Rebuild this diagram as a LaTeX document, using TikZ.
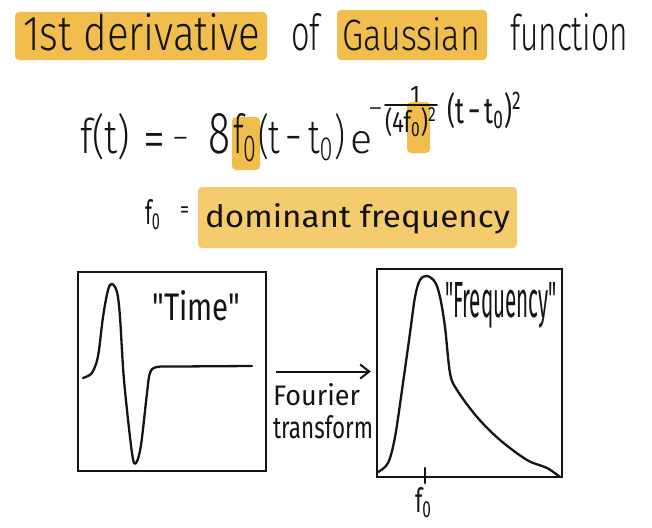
\documentclass[tikz,border=0pt]{standalone}
\usepackage{fontspec}
\usepackage{graphicx}
\setmainfont{Fira Sans Light}
\newfontfamily\reg{Fira Sans}
\newfontfamily\nomap{Fira Sans}[Ligatures=TeXOff]
\usetikzlibrary{arrows.meta}
\definecolor{hlA}{RGB}{241,190,78}
\definecolor{hlB}{RGB}{244,204,110}
\definecolor{ink}{RGB}{20,20,20}
\newcommand\hw[3]{\resizebox{#1pt}{#2pt}{#3}}
\begin{document}
\begin{tikzpicture}[x=1pt,y=1pt,
  txt/.style={anchor=base west,inner sep=0pt,outer sep=0pt,text=ink},
  rtxt/.style={txt,font=\reg},
  hl/.style={fill=hlA,rounded corners=4pt,draw=none},
  hlsoft/.style={fill=hlB,rounded corners=4pt,draw=none},
  boxframe/.style={draw=ink,line width=2.3pt,inner sep=0pt},
  curve/.style={draw=ink,line width=2.3pt,line cap=round,line join=round},
  >={Straight Barb[length=9pt,width=14pt]}]
\useasboundingbox (0,0) rectangle (652,-527);
\fill[white] (0,0) rectangle (652,-527);
% highlights
\path[hl] (15,-12) rectangle (267,-60);
\path[hl] (337,-10) rectangle (487,-60);
\path[hl] (232,-117) rectangle (260,-170);
\path[hl] (407,-102) rectangle (430,-153);
\path[hlsoft] (198,-187) rectangle (517,-248);
% title
\node[txt] (t1) at (23,-50) {\hw{237}{37}{1st derivative}};
\node[txt] (t2) at (291,-50) {\hw{29}{37}{of}};
\node[txt] (t3) at (342,-50) {\hw{138}{33}{Gaussian}};
\node[txt] (t4) at (510,-50) {\hw{118}{37}{function}};
% formula
\node[txt] (f1) at (80,-153) {\hw{50}{40}{f(t)}};
\node[txt] (f2) at (143,-158) {\hw{22}{25}{=}};
\node[txt,font=\fontsize{34}{34}\selectfont] (f3) at (172,-149) {−};
\node[txt] (f4) at (208,-153) {\hw{22}{40}{8}};
\node[txt] (f5) at (233,-153) {\hw{25}{40}{f\textsubscript{0}}};
\node[txt] (f6) at (258,-153) {\hw{87}{40}{(t\,−\,t\textsubscript{0})}};
\node[txt] (f7) at (350,-153) {\hw{22}{22}{e}};
\node[txt,font=\fontsize{30}{30}\selectfont] (f8) at (368,-118) {−};
\node[rtxt] (f9) at (410,-102) {\hw{10}{16}{1}};
\draw[ink,line width=1.8pt,line cap=round] (385,-105) -- (437,-105);
\node[rtxt] (f10) at (385,-132) {\hw{52}{25}{(4f\textsubscript{0})\textsuperscript{2}}};
\node[rtxt] (f11) at (447,-123) {\hw{75}{31}{(t\,−\,t\textsubscript{0})\textsuperscript{2}}};
% f0 line
\node[rtxt] (g1) at (145,-224) {\hw{16}{25}{f\textsubscript{0}}};
\node[rtxt] (g2) at (180,-217.7) {\hw{9}{10.7}{=}};
\node[rtxt] (g3) at (205,-227) {\hw{305}{24}{dominant frequency}};
% boxes
\node[boxframe,minimum width=188pt,minimum height=199pt] (lbox) at (172,-371.5) {};
\node[boxframe,minimum width=185pt,minimum height=208pt] (rbox) at (469.5,-373) {};
% time signal
\draw[curve] plot[smooth,tension=0.55] coordinates {(83,-378) (91,-374) (96,-364) (99,-350) (103,-317) (108,-290) (112,-284) (117,-292) (120,-317) (124,-380) (132,-453) (136,-463) (141,-445) (147,-393) (150,-373) (157,-367) (180,-366.5) (252,-366)};
% spectrum
\draw[curve] plot[smooth,tension=0.55] coordinates {(378,-472) (388,-463) (395,-437) (403,-383) (410,-333) (415,-297) (420,-280) (427,-276) (435,-282) (440,-297) (445,-327) (450,-373) (457,-390) (477,-417) (500,-440) (527,-460) (547,-468) (560,-477)};
\draw[curve] (425,-468) -- (425,-483);
\node[rtxt] (f0lab) at (415,-512) {\hw{17}{25}{f\textsubscript{0}}};
% labels
\node[txt] (time) at (152,-320) {\hw{88}{30}{\nomap"Time"}};
\node[txt] (freq) at (445,-317) {\hw{112}{35}{\nomap"Frequency"}};
\node[rtxt] (four) at (273,-405) {\hw{87}{22}{Fourier}};
\node[rtxt] (trans) at (273,-438) {\hw{100}{23}{transform}};
% arrow
\draw[ink,line width=2pt,->,shorten <=9pt,shorten >=5pt] (lbox.east) -- (lbox.east -| rbox.west);
\end{tikzpicture}
\end{document}
